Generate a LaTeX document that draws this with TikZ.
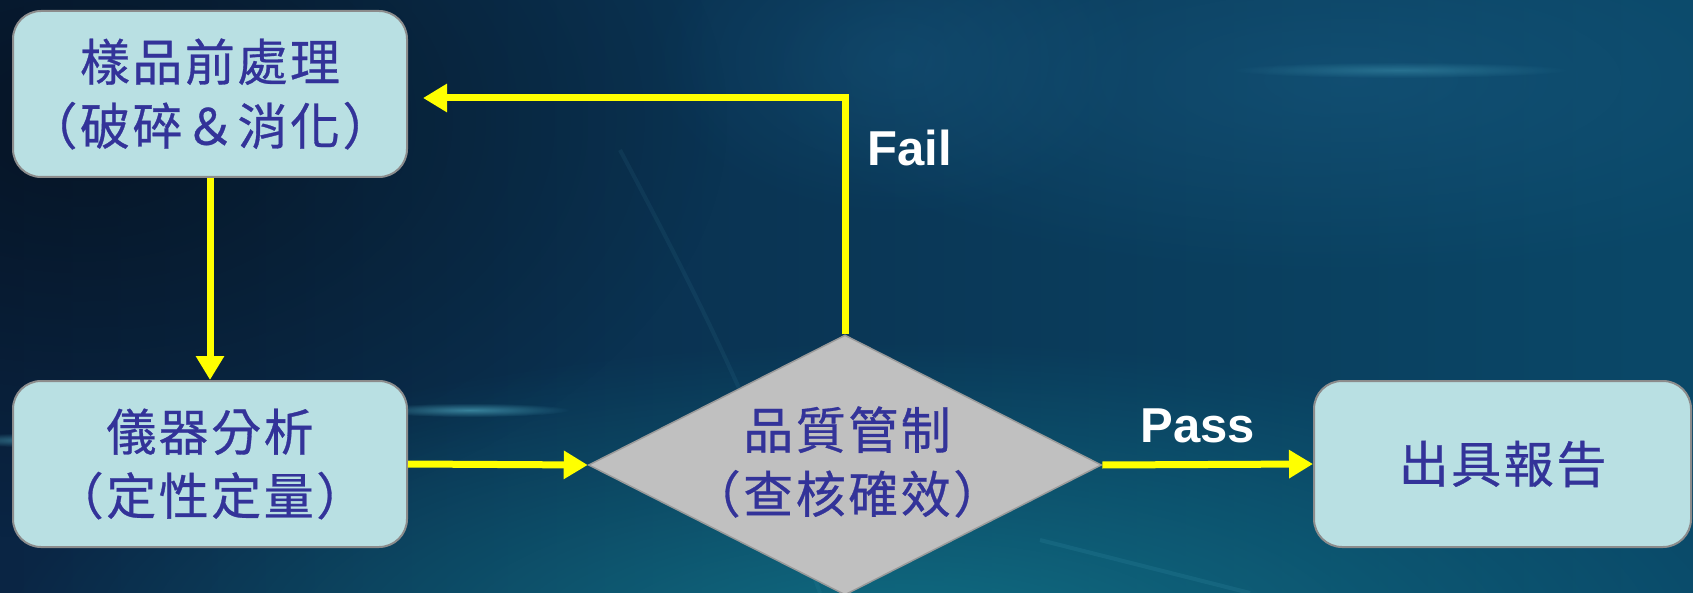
\documentclass[tikz,border=0pt]{standalone}
\usepackage{fontspec}
\newfontfamily\cjk{Noto Sans CJK TC}[LetterSpace=5,FakeBold=0.6]
\newfontfamily\lab{Liberation Sans}
\usetikzlibrary{arrows.meta,shapes.geometric,fadings}
\tikzfading[name=softglow, inner color=transparent!0, outer color=transparent!100]
\definecolor{boxfill}{HTML}{B9E0E3}
\definecolor{boxline}{HTML}{8C8C8C}
\definecolor{txtblue}{HTML}{333399}
\definecolor{qcfill}{HTML}{C0C0C0}
\definecolor{qcline}{HTML}{9A9A9A}
\definecolor{flowyellow}{HTML}{FFFF00}
\definecolor{bgleft}{HTML}{0A2544}
\definecolor{bgmid}{HTML}{0A3F62}
\definecolor{bgright}{HTML}{0A4868}
\definecolor{bgteal}{HTML}{128092}
\definecolor{bgblue}{HTML}{1A5E86}
\definecolor{streak}{HTML}{5FC4DA}
\begin{document}
\begin{tikzpicture}[x=1pt,y=-1pt,
  procbox/.style={rounded corners=28pt, minimum width=394pt, minimum height=166pt,
    draw=boxline, line width=2pt, fill=boxfill, inner sep=0pt},
  qcshape/.style={diamond, minimum width=513pt, minimum height=260pt, inner sep=0pt,
    fill=qcfill, draw=qcline, line width=1.5pt},
  cjktext/.style={text=txtblue, align=center, font=\cjk\fontsize{50}{64}\selectfont},
  flow/.style={draw=flowyellow, line width=7pt, -{Triangle[length=24pt,width=27pt]}},
  lbl/.style={text=white, font=\lab\bfseries\fontsize{49}{55}\selectfont, inner sep=0pt}
]
% background
\useasboundingbox (0,0) rectangle (1693,593);
\shade[left color=bgleft, middle color=bgmid, right color=bgright] (0,0) rectangle (1693,593);
\fill[black, fill opacity=0.45, path fading=softglow] (80,120) ellipse [x radius=650pt, y radius=420pt];
\fill[bgteal, fill opacity=0.75, path fading=softglow] (900,640) ellipse [x radius=900pt, y radius=300pt];
\fill[bgblue, fill opacity=0.45, path fading=softglow] (1350,80) ellipse [x radius=600pt, y radius=200pt];
\fill[bgblue, fill opacity=0.35, path fading=softglow] (900,60) ellipse [x radius=250pt, y radius=160pt];
\draw[streak, opacity=0.07, line width=4pt] (620,150) .. controls (700,300) and (760,420) .. (820,593);
\draw[streak, opacity=0.10, line width=4pt] (1040,540) -- (1250,593);
\fill[streak, fill opacity=0.55, path fading=softglow] (470,410) ellipse [x radius=100pt, y radius=7pt];
\fill[streak, fill opacity=0.45, path fading=softglow] (25,440) ellipse [x radius=70pt, y radius=7pt];
\fill[streak, fill opacity=0.3, path fading=softglow] (1400,70) ellipse [x radius=170pt, y radius=8pt];

% nodes
\node[procbox] (prep) at (210,94) {};
\node[cjktext] (preptext) at (prep.center) {樣品前處理\\（破碎＆消化）};
\node[procbox] (inst) at (210,464) {};
\node[cjktext] (insttext) at (inst.center) {儀器分析\\（定性定量）};
\node[qcshape] (qc) at (845,465) {};
\node[cjktext] (qctext) at (847,462) {品質管制\\（查核確效）};
\node[procbox, minimum width=377pt] (report) at (1502.5,464) {};
\node[cjktext] (reporttext) at (report.center) {出具報告};
\coordinate (failend) at (423,98);

% connectors
\draw[flow] (prep.south) -- (inst.north);
\draw[flow] (inst.east) -- (qc.west);
\draw[flow] (qc.east) -- (report.west);
\draw[flow] (qc.north) |- (failend);

% labels
\node[lbl, anchor=west] (fail) at (867,148) {Fail};
\node[lbl] (pass) at (1198,426) {Pass};
\end{tikzpicture}
\end{document}
